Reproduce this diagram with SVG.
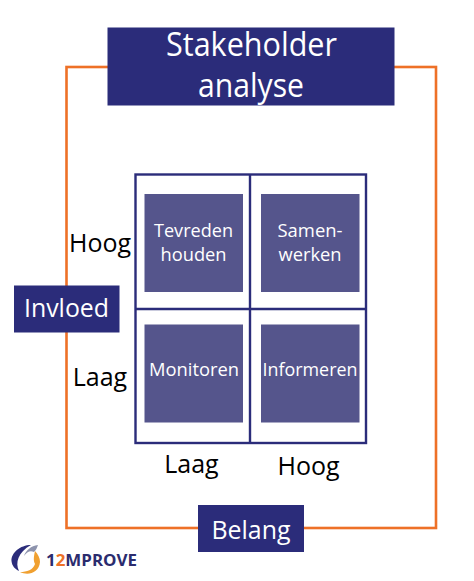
<svg xmlns="http://www.w3.org/2000/svg" width="474" height="581" viewBox="0 0 474 581">
<style>
text{font-family:"Open Sans","Noto Sans","Liberation Sans",sans-serif;text-anchor:middle}
.hd{fill:#2b2c7a}
.cell{fill:#55558c}
.w{fill:#fff}
.k{fill:#000;font-size:25px}
.c{font-size:18.5px}
.big{font-size:32px}
.mid{font-size:26px}
</style>
<rect width="474" height="581" fill="#fff"/>
<g id="connectors" fill="none">
<rect x="66.500" y="67" width="369.500" height="461" stroke="#ee7127" stroke-width="2.600"/>
</g>
<g id="matrix" fill="none" stroke="#2b2c7a" stroke-width="2.400">
<rect x="135.500" y="174.500" width="230.500" height="268.500"/>
<path d="M250 174.500V443M135.500 309H366"/>
</g>
<g id="title"><rect class="hd" x="107.500" y="27.500" width="287" height="78"/>
<text class="w big" x="251.500" y="56" textLength="171" lengthAdjust="spacingAndGlyphs">Stakeholder</text><text class="w big" x="251" y="97" textLength="106" lengthAdjust="spacingAndGlyphs">analyse</text></g>
<g id="invloed"><rect class="hd" x="14" y="285.500" width="105.500" height="47"/><text class="w mid" x="66.500" y="317" textLength="85" lengthAdjust="spacingAndGlyphs">Invloed</text></g>
<g id="belang"><rect class="hd" x="198" y="505" width="106" height="47"/><text class="w mid" x="251" y="539" textLength="79" lengthAdjust="spacingAndGlyphs">Belang</text></g>
<g id="cell-tl"><rect class="cell" x="144.500" y="194" width="98.500" height="98"/><text class="w c" x="193.500" y="237" textLength="79" lengthAdjust="spacingAndGlyphs">Tevreden</text><text class="w c" x="193.500" y="261" textLength="66" lengthAdjust="spacingAndGlyphs">houden</text></g>
<g id="cell-tr"><rect class="cell" x="261" y="194" width="98.500" height="98"/><text class="w c" x="310" y="237" textLength="65" lengthAdjust="spacingAndGlyphs">Samen-</text><text class="w c" x="310" y="261" textLength="63" lengthAdjust="spacingAndGlyphs">werken</text></g>
<g id="cell-bl"><rect class="cell" x="144.500" y="324.500" width="98.500" height="98"/><text class="w c" x="194" y="376" textLength="90" lengthAdjust="spacingAndGlyphs">Monitoren</text></g>
<g id="cell-br"><rect class="cell" x="261" y="324.500" width="98.500" height="98"/><text class="w c" x="310" y="376" textLength="95" lengthAdjust="spacingAndGlyphs">Informeren</text></g>
<g id="labels">
<text class="k" x="100" y="252">Hoog</text>
<text class="k" x="100" y="386">Laag</text>
<text class="k" x="191.500" y="473">Laag</text>
<text class="k" x="308.500" y="475">Hoog</text>
</g>
<g id="logo">
<path d="M31 545C20 545 11 553 11.500 561C12 566 15 569 19 571C15 563 18 552 31 545Z" fill="#2b2c7a"/>
<path d="M24 556C26 550 31 546 38 545C37 548 36 550 34 552C30 550 27 552 24 556Z" fill="#8d93ad"/>
<path d="M35 551C34 556 33 560 35 564C33 570 27 572 20 572C28 576 39 573 40 562C40 558 38 554 35 551Z" fill="#f0a030"/>
<text x="91.500" y="566" textLength="91" lengthAdjust="spacingAndGlyphs" style="font-size:16px;font-weight:700" fill="#2b2c6e">1<tspan fill="#ee7127">2</tspan>MPROVE</text>
</g>
</svg>
